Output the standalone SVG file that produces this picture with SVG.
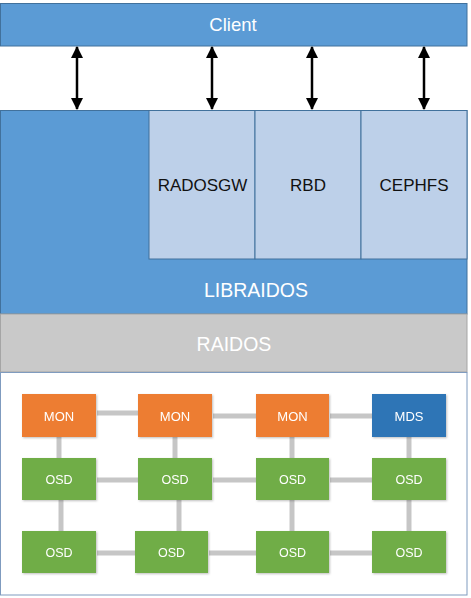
<svg xmlns="http://www.w3.org/2000/svg" width="471" height="598" viewBox="0 0 471 598">
<style>
.t{font-family:"Liberation Sans",Arial,sans-serif;text-anchor:middle;dominant-baseline:central}
.w{fill:#ffffff}
.k{fill:#111111}
.layer{stroke:#41719c;stroke-width:1}
.lb{fill:#bdd0e9;stroke:#41719c;stroke-width:1}
.mon{fill:#ed7d31}
.osd{fill:#70ad47}
.mds{fill:#2e75b6}
.nd{filter:url(#sh)}
.cn{stroke:#c6c6c6;stroke-width:5;fill:none}
.ar{stroke:#000;stroke-width:2.5;fill:none;marker-start:url(#ah);marker-end:url(#ah)}
</style>
<defs>
<marker id="ah" viewBox="0 0 12 12" refX="11" refY="6" markerWidth="12" markerHeight="12" orient="auto-start-reverse" markerUnits="userSpaceOnUse">
<path d="M0,0 L12,6 L0,12 z" fill="#000"/>
</marker>
<filter id="sh" x="-10%" y="-10%" width="130%" height="130%">
<feDropShadow dx="1" dy="1" stdDeviation="1" flood-color="#000" flood-opacity="0.25"/>
</filter>
</defs>
<g id="client">
<rect x="0.5" y="3.5" width="466.5" height="42.5" fill="#5b9bd5" class="layer"/>
<text x="233" y="24" class="t w" font-size="18.5">Client</text>
</g>
<g id="librados">
<rect x="0.5" y="110.5" width="466.5" height="203.5" fill="#5b9bd5" class="layer"/>
<text x="256" y="290" class="t w" font-size="19.5">LIBRAIDOS</text>
</g>
<g id="radosgw">
<rect x="149" y="110.5" width="106" height="148.5" class="lb"/>
<text x="202.5" y="185" class="t k" font-size="17">RADOSGW</text>
</g>
<g id="rbd">
<rect x="255" y="110.5" width="106" height="148.5" class="lb"/>
<text x="308" y="185" class="t k" font-size="17">RBD</text>
</g>
<g id="cephfs">
<rect x="361" y="110.5" width="106" height="148.5" class="lb"/>
<text x="414" y="185" class="t k" font-size="17">CEPHFS</text>
</g>
<g id="raidos">
<rect x="0.5" y="314" width="466.5" height="58" fill="#c9c9c9" stroke="#a5a5a5" stroke-width="1"/>
<text x="234" y="344" class="t w" font-size="19.5">RAIDOS</text>
</g>
<g id="cluster">
<rect x="0.5" y="372.5" width="466.5" height="222.5" fill="#ffffff" stroke="#7f9bbf" stroke-width="1"/>
</g>
<g id="connectors">
<line x1="77" y1="47" x2="77" y2="109" class="ar"/>
<line x1="212" y1="47" x2="212" y2="109" class="ar"/>
<line x1="312" y1="47" x2="312" y2="109" class="ar"/>
<line x1="424" y1="47" x2="424" y2="109" class="ar"/>
<line x1="97" y1="413" x2="138" y2="413" class="cn"/>
<line x1="213" y1="416" x2="256" y2="416" class="cn"/>
<line x1="330" y1="416" x2="372" y2="416" class="cn"/>
<line x1="97" y1="480" x2="138" y2="480" class="cn"/>
<line x1="213" y1="480" x2="256" y2="480" class="cn"/>
<line x1="330" y1="480" x2="372" y2="480" class="cn"/>
<line x1="97" y1="553" x2="135" y2="553" class="cn"/>
<line x1="209" y1="553" x2="256" y2="553" class="cn"/>
<line x1="330" y1="553" x2="372" y2="553" class="cn"/>
<line x1="59" y1="437" x2="59" y2="458" class="cn"/>
<line x1="61" y1="500" x2="61" y2="531" class="cn"/>
<line x1="175" y1="437" x2="175" y2="458" class="cn"/>
<line x1="179" y1="500" x2="179" y2="531" class="cn"/>
<line x1="292" y1="437" x2="292" y2="458" class="cn"/>
<line x1="292" y1="500" x2="292" y2="531" class="cn"/>
<line x1="409" y1="437" x2="409" y2="458" class="cn"/>
<line x1="409" y1="500" x2="409" y2="531" class="cn"/>
</g>
<g id="mon1" class="nd"><rect x="22" y="394" width="74" height="43" class="mon"/><text x="59" y="416" class="t w" font-size="13">MON</text></g>
<g id="mon2" class="nd"><rect x="138" y="394" width="74" height="43" class="mon"/><text x="175" y="416" class="t w" font-size="13">MON</text></g>
<g id="mon3" class="nd"><rect x="256" y="394" width="73" height="43" class="mon"/><text x="292.5" y="416" class="t w" font-size="13">MON</text></g>
<g id="mds" class="nd"><rect x="372" y="394" width="74" height="43" class="mds"/><text x="409" y="416" class="t w" font-size="13">MDS</text></g>
<g id="osd1" class="nd"><rect x="22" y="458" width="74" height="42" class="osd"/><text x="59" y="479.5" class="t w" font-size="12.5">OSD</text></g>
<g id="osd2" class="nd"><rect x="138" y="458" width="74" height="42" class="osd"/><text x="175" y="479.5" class="t w" font-size="12.5">OSD</text></g>
<g id="osd3" class="nd"><rect x="256" y="458" width="73" height="42" class="osd"/><text x="292.5" y="479.5" class="t w" font-size="12.5">OSD</text></g>
<g id="osd4" class="nd"><rect x="372" y="458" width="74" height="42" class="osd"/><text x="409" y="479.5" class="t w" font-size="12.5">OSD</text></g>
<g id="osd5" class="nd"><rect x="22" y="531" width="74" height="42" class="osd"/><text x="59" y="552.5" class="t w" font-size="12.5">OSD</text></g>
<g id="osd6" class="nd"><rect x="135" y="531" width="73" height="42" class="osd"/><text x="171.5" y="552.5" class="t w" font-size="12.5">OSD</text></g>
<g id="osd7" class="nd"><rect x="256" y="531" width="73" height="42" class="osd"/><text x="292.5" y="552.5" class="t w" font-size="12.5">OSD</text></g>
<g id="osd8" class="nd"><rect x="372" y="531" width="74" height="42" class="osd"/><text x="409" y="552.5" class="t w" font-size="12.5">OSD</text></g>
</svg>
